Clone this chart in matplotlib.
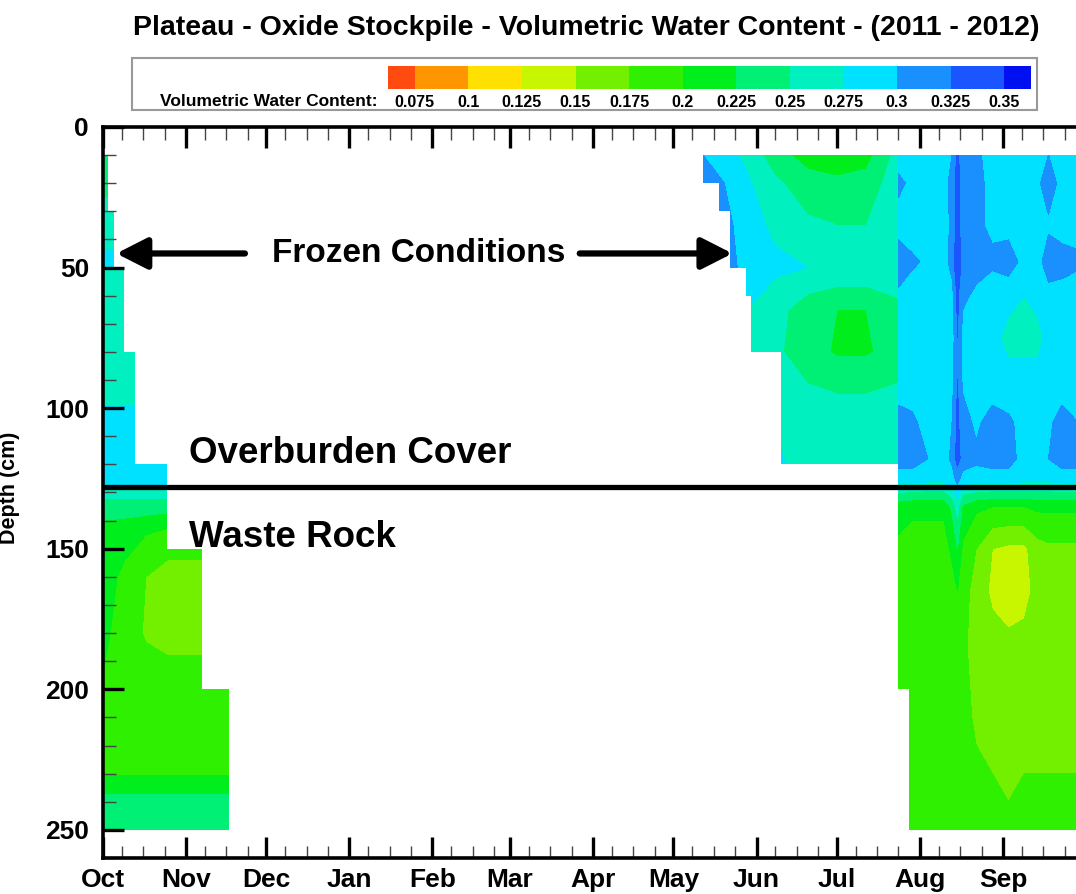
import numpy as np
import matplotlib
matplotlib.use('Agg')
import matplotlib.pyplot as plt
import matplotlib.dates as mdates
from matplotlib.patches import Polygon, Rectangle
from matplotlib.ticker import MultipleLocator

plt.rcParams['font.family'] = ['Liberation Sans', 'DejaVu Sans']
plt.rcParams['font.weight'] = 'bold'

# contour levels and colours (under, 11 bands, over)
levels = [0.075, 0.1, 0.125, 0.15, 0.175, 0.2, 0.225, 0.25, 0.275, 0.3, 0.325, 0.35]
level_labels = ['0.075', '0.1', '0.125', '0.15', '0.175', '0.2', '0.225',
                '0.25', '0.275', '0.3', '0.325', '0.35']
band_colors = ['#ff4a10', '#ff9500', '#ffe000', '#c8f500', '#72f000', '#2ef000',
               '#00ee1c', '#00f075', '#00f0c0', '#00e0ff', '#1a90ff', '#1a55ff', '#0010f0']

# --- Oct/Nov 2011 (before freeze-up), full profile
r1_dates = ['2011-10-01', '2011-10-09', '2011-10-17', '2011-10-25',
            '2011-11-02', '2011-11-10', '2011-11-17']
r1_depths = [10, 25, 40, 47, 55, 80, 95, 105, 120, 127, 134, 145, 160, 180, 200, 215, 230, 240, 250]
r1_vwc = [
    [0.24, 0.24, 0.24, 0.24, 0.24, 0.24, 0.24],
    [0.25, 0.25, 0.25, 0.25, 0.25, 0.25, 0.25],
    [0.265, 0.265, 0.265, 0.265, 0.265, 0.265, 0.265],
    [0.285, 0.285, 0.285, 0.285, 0.285, 0.285, 0.285],
    [0.262, 0.262, 0.262, 0.262, 0.262, 0.262, 0.262],
    [0.262, 0.262, 0.262, 0.262, 0.262, 0.262, 0.262],
    [0.27, 0.27, 0.27, 0.27, 0.27, 0.27, 0.27],
    [0.282, 0.282, 0.282, 0.282, 0.282, 0.282, 0.282],
    [0.285, 0.285, 0.285, 0.285, 0.285, 0.285, 0.285],
    [0.28, 0.28, 0.28, 0.28, 0.28, 0.28, 0.28],
    [0.24, 0.24, 0.24, 0.24, 0.24, 0.24, 0.24],
    [0.212, 0.208, 0.2, 0.19, 0.19, 0.19, 0.19],
    [0.21, 0.195, 0.175, 0.165, 0.165, 0.165, 0.165],
    [0.205, 0.19, 0.172, 0.165, 0.165, 0.165, 0.165],
    [0.198, 0.195, 0.19, 0.19, 0.19, 0.19, 0.19],
    [0.195, 0.195, 0.195, 0.195, 0.195, 0.195, 0.195],
    [0.197, 0.197, 0.197, 0.197, 0.197, 0.197, 0.197],
    [0.235, 0.235, 0.235, 0.235, 0.235, 0.235, 0.235],
    [0.24, 0.24, 0.24, 0.24, 0.24, 0.24, 0.24],
]
# sensor bands: top depth of each band and the last unfrozen date
r1_band_tops = [10, 30, 50, 80, 120, 150, 200]
r1_band_ends = ['2011-10-03', '2011-10-05', '2011-10-09', '2011-10-13',
                '2011-10-25', '2011-11-07', '2011-11-17']
r1_bottom = 250

# --- May-Jul 2012, overburden thawing
r2_dates = ['2012-05-12', '2012-05-20', '2012-05-28', '2012-06-08',
            '2012-06-20', '2012-07-01', '2012-07-12', '2012-07-24']
r2_depths = [10, 20, 35, 50, 65, 80, 95, 110, 120]
r2_vwc = [
    [0.30, 0.285, 0.27, 0.235, 0.215, 0.21, 0.215, 0.26],
    [0.31, 0.30, 0.28, 0.255, 0.235, 0.23, 0.235, 0.265],
    [0.31, 0.31, 0.285, 0.27, 0.255, 0.25, 0.25, 0.265],
    [0.32, 0.315, 0.29, 0.28, 0.275, 0.27, 0.27, 0.275],
    [0.29, 0.285, 0.275, 0.26, 0.235, 0.225, 0.225, 0.24],
    [0.28, 0.275, 0.265, 0.255, 0.235, 0.222, 0.222, 0.235],
    [0.27, 0.27, 0.265, 0.26, 0.255, 0.25, 0.25, 0.255],
    [0.28, 0.28, 0.28, 0.275, 0.26, 0.255, 0.255, 0.265],
    [0.285, 0.285, 0.285, 0.28, 0.265, 0.26, 0.26, 0.27],
]
r2_band_tops = [10, 20, 30, 50, 60, 80]
r2_band_starts = ['2012-05-12', '2012-05-18', '2012-05-22', '2012-05-28',
                  '2012-05-30', '2012-06-10']
r2_bottom = 120

# --- Jul-Sep 2012, full profile
r3_dates = ['2012-07-24', '2012-07-29', '2012-08-04', '2012-08-10', '2012-08-13',
            '2012-08-15', '2012-08-17', '2012-08-22', '2012-08-28', '2012-09-03',
            '2012-09-09', '2012-09-14', '2012-09-18', '2012-09-23', '2012-09-29']
r3_depths = [10, 20, 35, 48, 60, 75, 90, 105, 118, 125, 135, 150, 165, 185, 210, 230, 250]
r3_vwc = [
    [0.29, 0.29, 0.285, 0.285, 0.30, 0.33, 0.31, 0.305, 0.29, 0.285, 0.285, 0.29, 0.30, 0.285, 0.285],
    [0.305, 0.295, 0.285, 0.29, 0.31, 0.335, 0.31, 0.31, 0.29, 0.285, 0.285, 0.295, 0.315, 0.29, 0.285],
    [0.29, 0.285, 0.285, 0.29, 0.305, 0.335, 0.31, 0.305, 0.295, 0.29, 0.285, 0.285, 0.295, 0.29, 0.29],
    [0.315, 0.305, 0.295, 0.29, 0.31, 0.345, 0.315, 0.31, 0.305, 0.315, 0.29, 0.29, 0.315, 0.31, 0.305],
    [0.295, 0.285, 0.285, 0.285, 0.29, 0.33, 0.305, 0.295, 0.285, 0.28, 0.275, 0.28, 0.29, 0.29, 0.285],
    [0.285, 0.28, 0.28, 0.28, 0.285, 0.325, 0.29, 0.285, 0.28, 0.27, 0.27, 0.27, 0.28, 0.28, 0.28],
    [0.285, 0.285, 0.28, 0.285, 0.29, 0.325, 0.295, 0.29, 0.285, 0.28, 0.28, 0.28, 0.285, 0.285, 0.285],
    [0.31, 0.305, 0.29, 0.29, 0.30, 0.33, 0.31, 0.295, 0.31, 0.305, 0.29, 0.29, 0.295, 0.31, 0.3],
    [0.31, 0.31, 0.30, 0.29, 0.305, 0.335, 0.315, 0.305, 0.31, 0.31, 0.29, 0.29, 0.30, 0.31, 0.31],
    [0.29, 0.29, 0.285, 0.285, 0.29, 0.31, 0.29, 0.29, 0.29, 0.29, 0.285, 0.285, 0.285, 0.29, 0.29],
    [0.21, 0.205, 0.205, 0.205, 0.23, 0.26, 0.22, 0.205, 0.2, 0.2, 0.2, 0.205, 0.205, 0.205, 0.205],
    [0.195, 0.19, 0.19, 0.19, 0.205, 0.225, 0.195, 0.175, 0.15, 0.145, 0.145, 0.165, 0.17, 0.17, 0.17],
    [0.185, 0.18, 0.18, 0.18, 0.19, 0.2, 0.185, 0.165, 0.145, 0.14, 0.14, 0.16, 0.17, 0.17, 0.17],
    [0.185, 0.18, 0.18, 0.18, 0.185, 0.19, 0.18, 0.165, 0.16, 0.155, 0.16, 0.165, 0.17, 0.17, 0.17],
    [0.19, 0.185, 0.18, 0.18, 0.185, 0.19, 0.185, 0.17, 0.165, 0.165, 0.165, 0.17, 0.17, 0.17, 0.17],
    [0.195, 0.19, 0.185, 0.185, 0.19, 0.195, 0.19, 0.18, 0.175, 0.17, 0.175, 0.175, 0.175, 0.175, 0.175],
    [0.195, 0.19, 0.19, 0.19, 0.195, 0.2, 0.19, 0.185, 0.18, 0.18, 0.18, 0.18, 0.18, 0.18, 0.18],
]
r3_band_tops = [10, 200]
r3_band_starts = ['2012-07-24', '2012-07-28']
r3_bottom = 250

cover_depth = 128   # overburden / waste rock contact


def dnum(d):
    return mdates.date2num(np.array(d, dtype='datetime64[D]'))


def band_outline(tops, bottom, lefts, rights):
    # union of stacked rectangles, right side going down then left side going up
    bots = list(tops[1:]) + [bottom]
    pts = []
    for t, b, r in zip(tops, bots, rights):
        pts += [(r, t), (r, b)]
    for t, b, l in reversed(list(zip(tops, bots, lefts))):
        pts += [(l, b), (l, t)]
    return pts


fig = plt.figure(figsize=(10.76, 8.94), dpi=100)
ax = fig.add_axes([0.0957, 0.0403, 0.9061, 0.8177])

regions = [
    (r1_dates, r1_depths, r1_vwc,
     band_outline(r1_band_tops, r1_bottom, [dnum('2011-10-01')] * len(r1_band_tops), dnum(r1_band_ends))),
    (r2_dates, r2_depths, r2_vwc,
     band_outline(r2_band_tops, r2_bottom, dnum(r2_band_starts), [dnum(r2_dates[-1])] * len(r2_band_tops))),
    (r3_dates, r3_depths, r3_vwc,
     band_outline(r3_band_tops, r3_bottom, dnum(r3_band_starts), [dnum(r3_dates[-1])] * len(r3_band_tops))),
]

for dates, depths, vwc, outline in regions:
    X, Y = np.meshgrid(dnum(dates), depths)
    cs = ax.contourf(X, Y, np.array(vwc), levels=levels, colors=band_colors, extend='both')
    clip = Polygon(outline, closed=True, transform=ax.transData)
    cs.set_clip_path(clip)

ax.axhline(cover_depth, color='k', lw=3.8, zorder=3)

ax.set_xlim(dnum('2011-10-01'), dnum('2012-09-29'))
ax.set_ylim(260, 0)
ax.xaxis.set_major_locator(mdates.MonthLocator())
ax.xaxis.set_major_formatter(mdates.DateFormatter('%b'))
ax.xaxis.set_minor_locator(mdates.DayLocator(bymonthday=[8, 16, 24]))
ax.yaxis.set_major_locator(MultipleLocator(50))
ax.yaxis.set_minor_locator(MultipleLocator(10))
ax.tick_params(which='both', direction='in', top=True, right=False)
ax.tick_params(which='major', length=15, width=2.4, labelsize=19)
ax.tick_params(which='minor', length=9, width=1.0, color='#444444')
ax.tick_params(axis='x', which='major', pad=7)
ax.tick_params(axis='y', which='major', pad=10)
for s in ax.spines.values():
    s.set_linewidth(2.6)
ax.spines['right'].set_visible(False)

ax.set_ylabel('Depth (cm)', fontsize=15.5, fontweight='bold')
ax.yaxis.set_label_coords(-0.085, 0.507)

# annotations
ax.text(dnum('2012-01-27'), 45, 'Frozen Conditions', fontsize=24, ha='center', va='center')
arrow_kw = dict(arrowstyle='-|>,head_length=0.55,head_width=0.28', lw=4.5, color='k',
                mutation_scale=34, shrinkA=0, shrinkB=0)
ax.annotate('', xy=(dnum('2011-10-06'), 45), xytext=(dnum('2011-11-23'), 45), arrowprops=arrow_kw)
ax.annotate('', xy=(dnum('2012-05-23'), 45), xytext=(dnum('2012-03-27'), 45), arrowprops=arrow_kw)
ax.text(dnum('2011-11-02'), 116, 'Overburden Cover', fontsize=26.5, ha='left', va='center')
ax.text(dnum('2011-11-02'), 146, 'Waste Rock', fontsize=26.5, ha='left', va='center')

fig.text(0.545, 0.969, 'Plateau - Oxide Stockpile - Volumetric Water Content - (2011 - 2012)',
         fontsize=20.5, ha='center', va='center')

# legend box with colour bar
fig.add_artist(Rectangle((132 / 1076, 1 - 110 / 894), 905 / 1076, 52 / 894,
                         transform=fig.transFigure, fill=False, ec='#999999', lw=1.5))
cax = fig.add_axes([388 / 1076, 1 - 89 / 894, 643 / 1076, 23 / 894])
cb = fig.colorbar(cs, cax=cax, orientation='horizontal', extend='both', extendrect=True,
                  extendfrac=0.0455, ticks=levels)
cb.set_ticklabels(level_labels)
cb.outline.set_visible(False)
cb.ax.tick_params(length=0, pad=4, labelsize=11.5)
fig.text(377 / 1076, 1 - 101 / 894, 'Volumetric Water Content:', fontsize=12.5,
         ha='right', va='center')

fig.savefig('out.png', dpi=100)
